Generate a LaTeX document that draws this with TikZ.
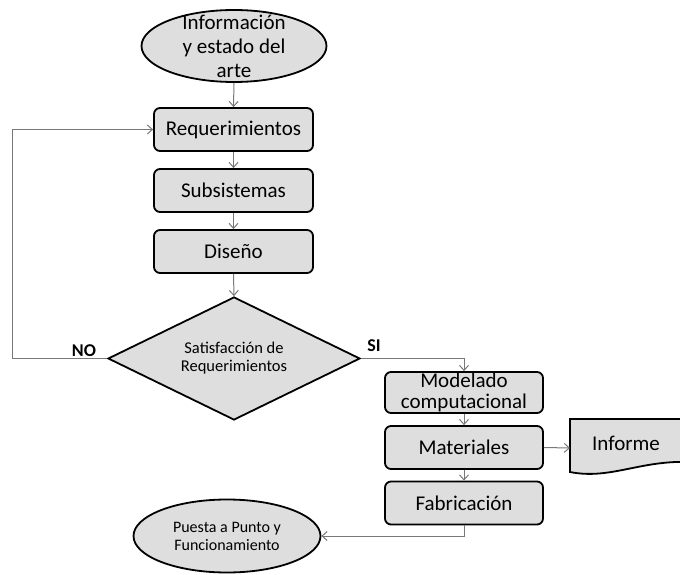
\documentclass[tikz,border=0pt]{standalone}
\usepackage{fontspec}
\setmainfont{Carlito}
\usetikzlibrary{shapes.geometric,arrows.meta}
\definecolor{boxfill}{RGB}{222,222,222}
\definecolor{linegray}{RGB}{120,120,120}
\begin{document}
\begin{tikzpicture}[x=1pt,y=-1pt,
  proc/.style={draw=black, line width=1.8pt, fill=boxfill, rounded corners=6pt,
    minimum width=159pt, minimum height=43pt, inner sep=0pt, align=center,
    font=\fontsize{21}{21.5}\selectfont},
  term/.style={ellipse, draw=black, line width=1.8pt, fill=boxfill, inner sep=0pt},
  conn/.style={draw=linegray, line width=1pt, -{Straight Barb[length=5pt,width=9pt]}},
  lbl/.style={font=\fontsize{18}{18}\selectfont\bfseries, inner sep=0pt}]
\useasboundingbox (0,0) rectangle (680,575);

\node[term, minimum width=185pt, minimum height=72pt] (info) at (234,46) {};
\node[align=center, font=\fontsize{21}{24}\selectfont, inner sep=0pt] (infotxt) at (234,46) {Información\\y estado del\\arte};

\node[proc] (req) at (233.5,129.5) {Requerimientos};
\node[proc] (sub) at (233.5,190.5) {Subsistemas};
\node[proc] (dis) at (233.5,251.5) {Diseño};

\node[diamond, draw=black, line width=1.8pt, fill=boxfill, minimum width=252pt,
  minimum height=123pt, aspect=2, inner sep=0pt, align=center,
  font=\fontsize{16.5}{18}\selectfont] (sat) at (234,358.5) {Satisfacción de\\Requerimientos};

\node[proc, minimum width=158pt, minimum height=41pt] (mod) at (464,392.5) {Modelado\\computacional};
\node[proc, minimum width=158pt] (mat) at (464,447.5) {Materiales};
\node[proc, minimum width=158pt] (fab) at (464,503) {Fabricación};

\node[term, minimum width=187pt, minimum height=73pt, align=center,
  font=\fontsize{16}{18}\selectfont] (pue) at (227,536) {Puesta a Punto y\\Funcionamiento};

\begin{scope}
  \clip (0,0) rectangle (680,575);
  \draw[line width=1.8pt, fill=boxfill] (570,419) -- (690,419) -- (690,462)
    .. controls (640,460) and (610,480) .. (570,472) -- cycle;
\end{scope}
\node[font=\fontsize{21}{21}\selectfont] (inf) at (626,443) {Informe};
\coordinate (infL) at (570,448);
\coordinate (fbk) at (12,358.5);

\draw[conn] (info.south) -- (req.north);
\draw[conn] (req.south) -- (sub.north);
\draw[conn] (sub.south) -- (dis.north);
\draw[conn] (dis.south) -- (sat.north);
\draw[conn] (sat.west) -- (fbk) |- (req.west);
\draw[conn] (sat.east) -| (mod.north);
\draw[conn] (mod.south) -- (mat.north);
\draw[conn] (mat.south) -- (fab.north);
\draw[conn] (mat.east) -- (infL);
\draw[conn] (fab.south) |- (pue.east);

\node[lbl] (no) at (84,351) {NO};
\node[lbl] (si) at (374,346) {SI};
\end{tikzpicture}
\end{document}
